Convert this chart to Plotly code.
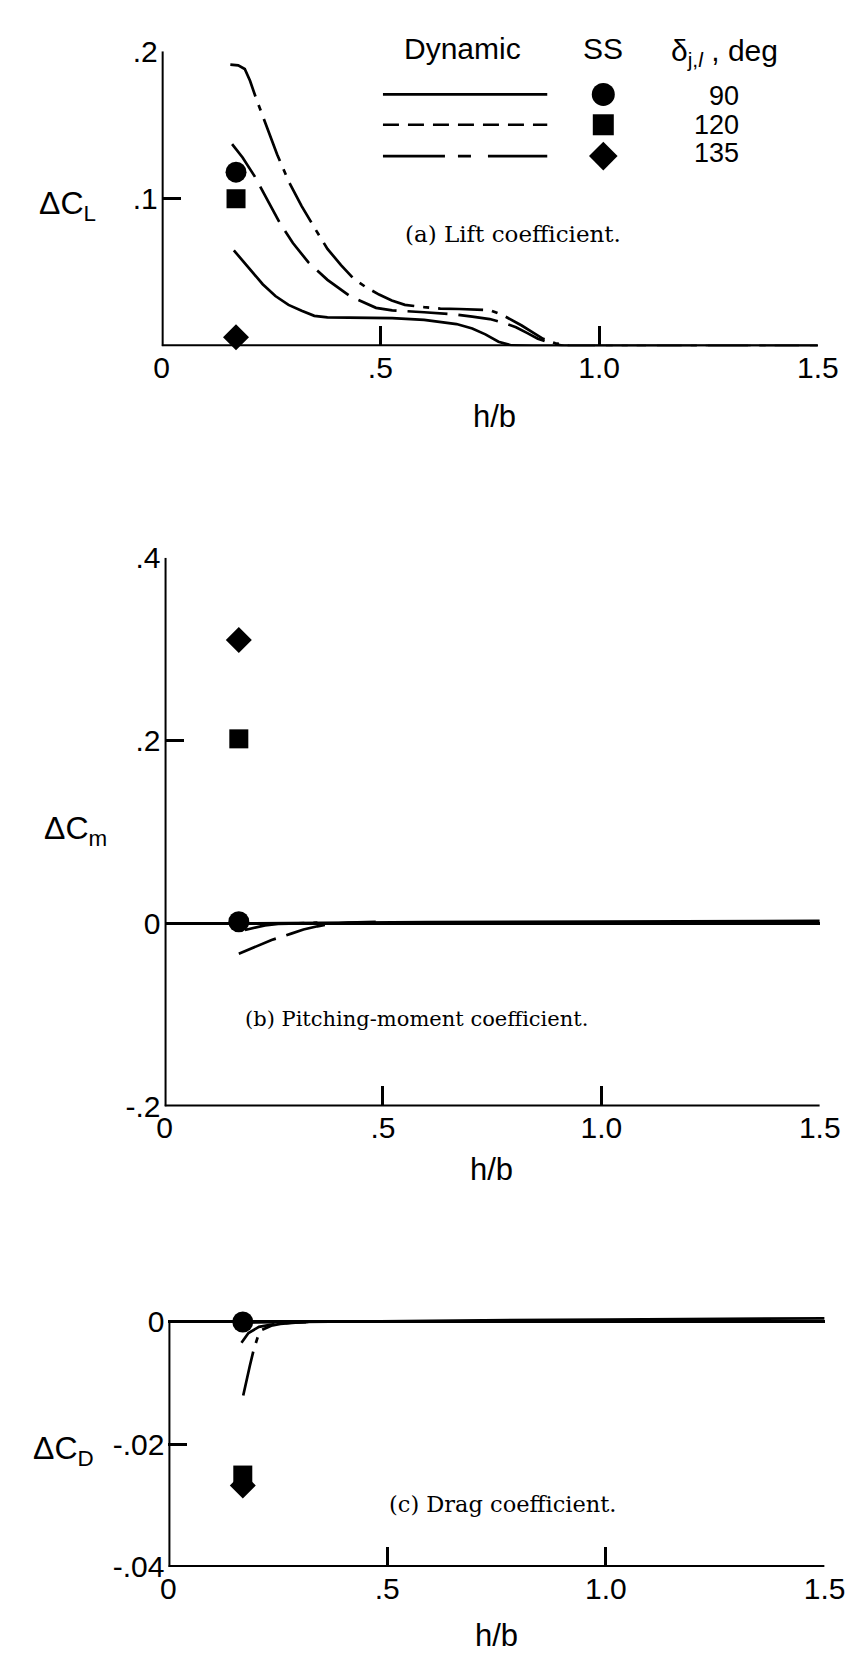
import plotly.graph_objects as go

# ---------------- data ----------------
ss_x = [0.17, 0.17, 0.17]                 # SS test height h/b
ss_cl = [0.118, 0.100, 0.006]             # delta CL  (90, 120, 135 deg)
ss_cm = [0.002, 0.202, 0.310]             # delta Cm
ss_cd = [0.0, -0.0250, -0.0267]           # delta CD

cl90_x = [0.165, 0.20, 0.231, 0.26, 0.29, 0.32, 0.349, 0.379, 0.45, 0.527, 0.60, 0.674, 0.71, 0.74, 0.77, 0.80, 0.85, 1.0, 1.5]
cl90_y = [0.065, 0.053, 0.042, 0.034, 0.028, 0.024, 0.0206, 0.0195, 0.0193, 0.019, 0.0178, 0.015, 0.012, 0.008, 0.003, 0.0005, 0.0, 0.0, 0.0]

cl120_x = [0.161, 0.185, 0.213, 0.24, 0.272, 0.30, 0.335, 0.379, 0.43, 0.49, 0.527, 0.60, 0.664, 0.71, 0.75, 0.78, 0.81, 0.835, 0.86, 0.89, 0.92, 1.0, 1.5]
cl120_y = [0.137, 0.128, 0.115, 0.100, 0.0826, 0.070, 0.057, 0.045, 0.034, 0.026, 0.0243, 0.023, 0.0217, 0.020, 0.0184, 0.016, 0.0128, 0.009, 0.005, 0.002, 0.0, 0.0, 0.0]

cl135_x = [0.157, 0.175, 0.19, 0.202, 0.216, 0.24, 0.264, 0.29, 0.32, 0.35, 0.379, 0.41, 0.438, 0.467, 0.497, 0.526, 0.556, 0.60, 0.637, 0.68, 0.72, 0.75, 0.78, 0.80, 0.823, 0.85, 0.872, 0.90, 0.93, 1.0, 1.5]
cl135_y = [0.191, 0.1905, 0.188, 0.180, 0.168, 0.149, 0.130, 0.112, 0.095, 0.080, 0.066, 0.055, 0.046, 0.040, 0.035, 0.031, 0.028, 0.0265, 0.0255, 0.0252, 0.025, 0.0245, 0.021, 0.018, 0.014, 0.009, 0.005, 0.002, 0.0003, 0.0, 0.0]

cm90_x = [0.17, 0.30, 0.60, 1.0, 1.5]
cm90_y = [0.0, 0.0007, 0.0015, 0.0022, 0.003]
cm120_x = [0.17, 0.20, 0.245, 0.29, 0.318, 0.35, 0.38, 0.42, 0.50]
cm120_y = [-0.033, -0.027, -0.018, -0.011, -0.0065, -0.003, -0.0005, 0.001, 0.002]
cm135_x = [0.184, 0.20, 0.23, 0.26, 0.30, 0.35]
cm135_y = [-0.007, -0.005, -0.002, -0.0005, 0.0005, 0.001]

cd90_x = [0.17, 0.30, 0.60, 1.0, 1.5]
cd90_y = [-0.0001, 0.0, 0.0002, 0.0004, 0.0006]
cd120_x = [0.167, 0.183, 0.207, 0.245, 0.28, 0.32]
cd120_y = [-0.0034, -0.0018, -0.0008, -0.0003, -0.0001, 0.0]
cd135_x = [0.171, 0.178, 0.186, 0.195, 0.204, 0.213, 0.235, 0.256, 0.29, 0.33]
cd135_y = [-0.012, -0.0095, -0.0072, -0.0045, -0.0025, -0.0013, -0.0006, -0.0003, -0.0001, 0.0]

angles = ["90", "120", "135"]
x_ticks = [0, 0.5, 1.0, 1.5]
x_ticktext = ["0", ".5", "1.0", "1.5"]

# ---------------- styling ----------------
W, H = 863, 1675
SANS = "Liberation Sans, Arial, Helvetica, sans-serif"
SERIF = "DejaVu Serif, Liberation Serif, serif"
BLACK = "black"
LW = 2.7
dash_styles = ["solid", "40px,11px", "45px,9px,6px,9px"]
legend_dash = ["solid", "16px,9px", "62px,13px,13px,17px"]
symbols = ["circle", "square", "diamond"]
msizes = [21, 19, 20]
TICKFONT = 30

def px_x(p):
    return p / W

def px_y(p):
    return 1 - p / H

fig = go.Figure()

panels = [
    dict(xa="x", ya="y", xs=[cl90_x, cl120_x, cl135_x], ys=[cl90_y, cl120_y, cl135_y], ss=ss_cl),
    dict(xa="x2", ya="y2", xs=[cm90_x, cm120_x, cm135_x], ys=[cm90_y, cm120_y, cm135_y], ss=ss_cm),
    dict(xa="x3", ya="y3", xs=[cd90_x, cd120_x, cd135_x], ys=[cd90_y, cd120_y, cd135_y], ss=ss_cd),
]

for p in panels:
    for i in range(3):
        fig.add_trace(go.Scatter(x=p["xs"][i], y=p["ys"][i], mode="lines",
                                 line=dict(color=BLACK, width=LW, dash=dash_styles[i]),
                                 xaxis=p["xa"], yaxis=p["ya"], hoverinfo="skip"))
    for i in range(3):
        fig.add_trace(go.Scatter(x=[ss_x[i]], y=[p["ss"][i]], mode="markers",
                                 marker=dict(symbol=symbols[i], size=msizes[i], color=BLACK),
                                 cliponaxis=False, xaxis=p["xa"], yaxis=p["ya"], hoverinfo="skip"))

# legend samples on a transparent overlay pixel axis
leg_y = [79, 110, 142]
for i in range(3):
    fig.add_trace(go.Scatter(x=[388, 558], y=[leg_y[i], leg_y[i]], mode="lines",
                             line=dict(color=BLACK, width=LW, dash=legend_dash[i]),
                             xaxis="x4", yaxis="y4", hoverinfo="skip"))
    fig.add_trace(go.Scatter(x=[616], y=[leg_y[i]], mode="markers",
                             marker=dict(symbol=symbols[i], size=msizes[i] + 2, color=BLACK),
                             cliponaxis=False, xaxis="x4", yaxis="y4", hoverinfo="skip"))

def xaxis_cfg(domain, anchor):
    return dict(domain=domain, anchor=anchor, range=[0, 1.5], tickmode="array",
                tickvals=x_ticks, ticktext=x_ticktext, ticks="inside", ticklen=20,
                tickwidth=3.2, tickcolor=BLACK, showgrid=False, zeroline=False,
                showline=False, tickfont=dict(family=SANS, size=TICKFONT, color=BLACK),
                ticklabelstandoff=1)

def yaxis_cfg(domain, anchor, rng, tv, tt, zero):
    return dict(domain=domain, anchor=anchor, range=rng, tickmode="array",
                tickvals=tv, ticktext=tt, ticks="inside", ticklen=19, tickwidth=3.2,
                tickcolor=BLACK, showgrid=False, zeroline=zero, zerolinecolor=BLACK,
                zerolinewidth=3, showline=False,
                tickfont=dict(family=SANS, size=TICKFONT, color=BLACK), ticklabelstandoff=3)

fig.update_layout(
    width=W, height=H, margin=dict(l=0, r=0, t=0, b=0),
    paper_bgcolor="white", plot_bgcolor="rgba(0,0,0,0)", showlegend=False,
    xaxis=xaxis_cfg([px_x(159), px_x(838)], "y"),
    yaxis=yaxis_cfg([px_y(336), px_y(35)], "x", [0, 0.2], [0.1, 0.2], [".1", ".2"], False),
    xaxis2=xaxis_cfg([px_x(162), px_x(840)], "y2"),
    yaxis2=yaxis_cfg([px_y(1112), px_y(552)], "x2", [-0.2, 0.4], [-0.2, 0, 0.2, 0.4],
                     ["-.2", "0", ".2", ".4"], True),
    xaxis3=xaxis_cfg([px_x(166), px_x(845)], "y3"),
    yaxis3=yaxis_cfg([px_y(1582), px_y(1316.4)], "x3", [-0.04, 0.0025], [-0.04, -0.02, 0],
                     ["-.04", "-.02", "0"], True),
    xaxis4=dict(domain=[0, 1], anchor="y4", range=[0, W], visible=False, fixedrange=True),
    yaxis4=dict(domain=[0, 1], anchor="x4", range=[H, 0], visible=False, fixedrange=True),
)

# axis frame lines (left and bottom)
frames = [("x", "y", 0.0, 0.2), ("x2", "y2", -0.2, 0.4), ("x3", "y3", -0.04, 0.0)]
for xa, ya, y0, y1 in frames:
    fig.add_shape(type="line", xref=xa, yref=ya, x0=0, x1=1.5, y0=y0, y1=y0,
                  line=dict(color=BLACK, width=4))
    fig.add_shape(type="line", xref=xa, yref=ya, x0=0, x1=0, y0=y0, y1=y1,
                  line=dict(color=BLACK, width=4))

def ann(text, x, y, size=31, family=SANS, xanchor="center", yanchor="middle"):
    fig.add_annotation(text=text, x=px_x(x), y=px_y(y), xref="paper", yref="paper",
                       showarrow=False, xanchor=xanchor, yanchor=yanchor,
                       font=dict(family=family, size=size, color=BLACK))

# axis titles
ann("\u0394C<sub>L</sub>", 30, 192, size=32, xanchor="left")
ann("\u0394C<sub>m</sub>", 35, 830, size=32, xanchor="left")
ann("\u0394C<sub>D</sub>", 24, 1463, size=32, xanchor="left")
ann("h/b", 503, 408)
ann("h/b", 500, 1176)
ann("h/b", 505, 1652)

# captions
ann("(a) Lift coefficient.", 523, 221, size=23, family=SERIF)
ann("(b) Pitching-moment coefficient.", 423, 1023, size=21, family=SERIF)
ann("(c) Drag coefficient.", 512, 1518, size=22.5, family=SERIF)

# legend header and labels
ann("Dynamic", 470, 32, size=30)
ann("SS", 616, 32, size=30)
ann("\u03b4<sub>j,<i>l</i></sub> , deg", 684, 36, size=30, xanchor="left")
for i in range(3):
    ann(angles[i], 758, [81, 110, 139][i], size=27, xanchor="right")

fig.write_html("out.html")
